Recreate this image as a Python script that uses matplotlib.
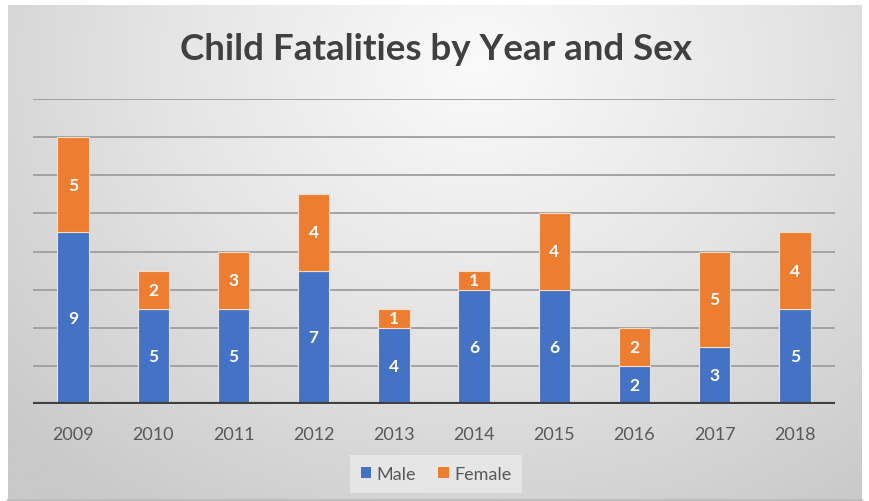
import numpy as np
import matplotlib
matplotlib.use("Agg")
import matplotlib.pyplot as plt
from matplotlib.colors import LinearSegmentedColormap
from matplotlib.patches import Patch

years = ["2009", "2010", "2011", "2012", "2013", "2014", "2015", "2016", "2017", "2018"]
male = [9, 5, 5, 7, 4, 6, 6, 2, 3, 5]
female = [5, 2, 3, 4, 1, 1, 4, 2, 5, 4]
title = "Child Fatalities by Year and Sex"

W, H = 870, 502
fig = plt.figure(figsize=(W / 100, H / 100), dpi=100)
fig.patch.set_facecolor("white")

# gradient background of the chart area
x0, x1, y0, y1 = 8, 862, 6, 502
bg = fig.add_axes([x0 / W, 1 - y1 / H, (x1 - x0) / W, (y1 - y0) / H])
gx = np.linspace(0, 1, 400)
gy = np.linspace(0, 1, 240)
GX, GY = np.meshgrid(gx, gy)
r = np.sqrt(((GX - 0.55) / 0.75) ** 2 + ((GY - 0.12) / 1.1) ** 2)
cmap = LinearSegmentedColormap.from_list("g", ["#fafafa", "#e4e4e4", "#c9c9c9"])
bg.imshow(np.clip(r, 0, 1), cmap=cmap, aspect="auto", extent=[0, 1, 1, 0], vmin=0, vmax=1)
bg.set_xlim(0, 1)
bg.set_ylim(1, 0)
bg.axis("off")
bg.plot([0, 1], [0.002, 0.002], color="#bdbdbd", lw=1.5, transform=bg.transAxes, clip_on=False)

# main axes
L, R, T, B = 33, 835, 100, 405
ax = fig.add_axes([L / W, 1 - B / H, (R - L) / W, (B - T) / H])
ax.patch.set_alpha(0)
x = np.arange(len(years))
bw = 0.39
ax.bar(x, male, bw, color="#4472C4", edgecolor="#dde6f5", linewidth=0.8, zorder=3, label="Male")
ax.bar(x, female, bw, bottom=male, color="#ED7D31", edgecolor="#f7dcc8", linewidth=0.8, zorder=3, label="Female")

for xi, m, f in zip(x, male, female):
    ax.text(xi, m / 2, str(m), ha="center", va="center", color="white",
            fontsize=12.5, fontweight="bold", family="Lato", zorder=4)
    ax.text(xi, m + f / 2, str(f), ha="center", va="center", color="white",
            fontsize=12.5, fontweight="bold", family="Lato", zorder=4)

ax.set_xlim(-0.5, len(years) - 0.5)
ax.set_ylim(0, 16)
for g in range(2, 17, 2):
    ax.axhline(g, color="#9e9e9e", lw=1.3, zorder=1)
ax.axhline(0, color="#404040", lw=3, zorder=5)
for s in ax.spines.values():
    s.set_visible(False)
ax.set_yticks([])
ax.set_xticks(x)
ax.set_xticklabels(years, family="Lato", fontsize=13, color="#595959")
ax.tick_params(axis="x", length=0, pad=16)

fig.text(436 / W, 1 - 50 / H, title, ha="center", va="center", fontsize=26.5,
         fontweight="bold", family="Lato", color="#404040")

handles = [Patch(facecolor="#4472C4", label="Male"), Patch(facecolor="#ED7D31", label="Female")]
leg = fig.legend(handles=handles, loc="center", bbox_to_anchor=(436 / W, 1 - 475 / H), ncol=2,
                 frameon=True, prop={"family": "Lato", "size": 13}, handlelength=0.6,
                 handleheight=0.6, handletextpad=0.3, columnspacing=1.2, borderpad=0.6)
leg.get_frame().set_facecolor("#e8e8e8")
leg.get_frame().set_edgecolor("none")
leg.get_frame().set_alpha(0.9)
leg.get_frame().set_boxstyle("square", pad=0)
for t in leg.get_texts():
    t.set_color("#595959")

fig.savefig("out.png", dpi=100, facecolor="white")
